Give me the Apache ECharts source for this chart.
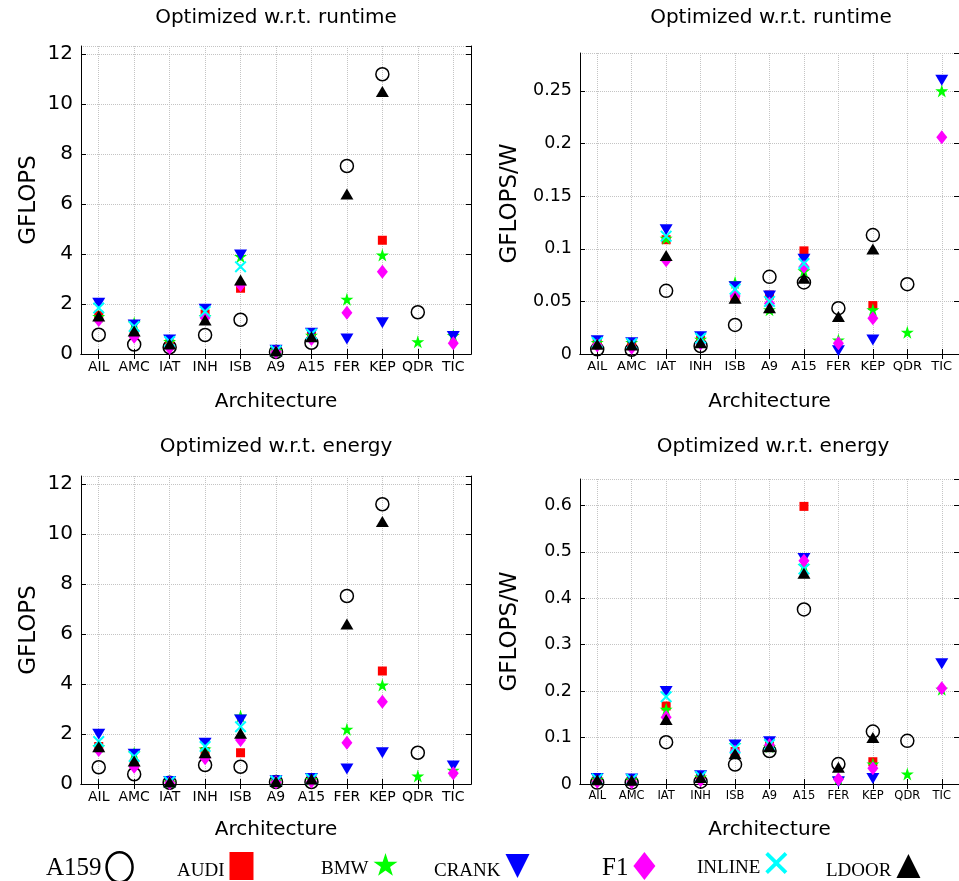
<!DOCTYPE html>
<html><head><meta charset="utf-8">
<script src="https://cdn.jsdelivr.net/npm/echarts@6/dist/echarts.min.js"></script>
<style>html,body{margin:0;padding:0;background:#fff}#c{width:959px;height:881px}</style>
</head><body><div id="c"></div>
<script>
const categories = ['AIL','AMC','IAT','INH','ISB','A9','A15','FER','KEP','QDR','TIC'];
const seriesNames = ['A159','AUDI','BMW','CRANK','F1','INLINE','LDOOR'];

// Panel 1: optimized w.r.t. runtime, GFLOPS
const rtGflopsA159   = [0.77, 0.38, 0.27, 0.76, 1.37, 0.08, 0.45, 7.52, 11.19, 1.67, null];
const rtGflopsAUDI   = [1.55, 0.80, 0.40, 1.60, 2.63, 0.12, 0.70, null, 4.55, null, null];
const rtGflopsBMW    = [1.50, 1.24, 0.50, 1.50, 3.90, 0.14, 0.75, 2.19, 3.96, 0.49, 0.74];
const rtGflopsCRANK  = [2.03, 1.16, 0.56, 1.79, 3.96, 0.15, 0.83, 0.60, 1.25, null, 0.70];
const rtGflopsF1     = [1.36, 0.69, 0.25, 1.45, 2.76, 0.08, 0.60, 1.65, 3.29, null, 0.43];
const rtGflopsINLINE = [1.84, 1.10, 0.50, 1.70, 3.49, 0.13, 0.80, null, null, null, null];
const rtGflopsLDOOR  = [1.52, 0.92, 0.40, 1.36, 2.96, 0.12, 0.69, 6.40, 10.50, null, null];

// Panel 2: optimized w.r.t. runtime, GFLOPS/W
const rtEffA159   = [0.0045, 0.0040, 0.0600, 0.0076, 0.0276, 0.0733, 0.0680, 0.0435, 0.1130, 0.0663, null];
const rtEffAUDI   = [0.0100, 0.0090, 0.1086, 0.0130, 0.0530, 0.0560, 0.0980, null, 0.0460, null, null];
const rtEffBMW    = [0.0110, 0.0110, 0.1100, 0.0140, 0.0680, 0.0420, 0.0790, 0.0133, 0.0420, 0.0206, 0.2500];
const rtEffCRANK  = [0.0125, 0.0108, 0.1180, 0.0165, 0.0640, 0.0552, 0.0900, 0.0030, 0.0133, null, 0.2600];
const rtEffF1     = [0.0080, 0.0060, 0.0890, 0.0100, 0.0550, 0.0480, 0.0830, 0.0102, 0.0340, null, 0.2060];
const rtEffINLINE = [0.0110, 0.0100, 0.1120, 0.0150, 0.0616, 0.0500, 0.0860, null, null, null, null];
const rtEffLDOOR  = [0.0092, 0.0086, 0.0937, 0.0108, 0.0530, 0.0440, 0.0720, 0.0356, 0.0997, null, null];

// Panel 3: optimized w.r.t. energy, GFLOPS
const enGflopsA159   = [0.67, 0.39, 0.05, 0.76, 0.69, 0.08, 0.08, 7.52, 11.19, 1.25, null];
const enGflopsAUDI   = [1.50, 0.80, 0.08, 1.30, 1.25, 0.10, 0.15, null, 4.52, null, null];
const enGflopsBMW    = [1.50, 1.24, 0.08, 1.40, 2.72, 0.12, 0.18, 2.19, 3.96, 0.32, 0.55];
const enGflopsCRANK  = [1.99, 1.19, 0.10, 1.63, 2.56, 0.13, 0.22, 0.60, 1.25, null, 0.72];
const enGflopsF1     = [1.36, 0.69, 0.04, 1.03, 1.76, 0.07, 0.10, 1.65, 3.29, null, 0.43];
const enGflopsINLINE = [1.70, 1.10, 0.09, 1.50, 2.29, 0.12, 0.20, null, null, null, null];
const enGflopsLDOOR  = [1.49, 0.92, 0.08, 1.25, 2.03, 0.10, 0.20, 6.40, 10.50, null, null];

// Panel 4: optimized w.r.t. energy, GFLOPS/W
const enEffA159   = [0.003, 0.003, 0.090, 0.005, 0.042, 0.071, 0.376, 0.043, 0.113, 0.093, null];
const enEffAUDI   = [0.008, 0.007, 0.168, 0.012, 0.070, 0.090, 0.598, null, 0.048, null, null];
const enEffBMW    = [0.010, 0.009, 0.161, 0.015, 0.085, 0.080, 0.470, 0.012, 0.043, 0.0215, 0.204];
const enEffCRANK  = [0.012, 0.011, 0.199, 0.018, 0.084, 0.091, 0.486, 0.005, 0.012, null, 0.259];
const enEffF1     = [0.005, 0.004, 0.144, 0.008, 0.070, 0.084, 0.481, 0.010, 0.034, null, 0.206];
const enEffINLINE = [0.011, 0.010, 0.188, 0.016, 0.077, 0.085, 0.463, null, null, null, null];
const enEffLDOOR  = [0.009, 0.008, 0.139, 0.014, 0.065, 0.080, 0.454, 0.036, 0.100, null, null];

// Tick labels
const yTicksGflops = [0, 2, 4, 6, 8, 10, 12];
const yTicksRtEff  = [0, 0.05, 0.1, 0.15, 0.2, 0.25];
const yTicksEnEff  = [0, 0.1, 0.2, 0.3, 0.4, 0.5, 0.6];

const STAR = 'path://M50,0L61.2,34.5L97.6,34.5L68.2,55.9L79.4,90.5L50,69.1L20.6,90.5L31.8,55.9L2.4,34.5L38.8,34.5Z';
const XMARK = 'path://M0,12L12,0L50,38L88,0L100,12L62,50L100,88L88,100L50,62L12,100L0,88L38,50Z';
const DOWNTRI = 'path://M0,0L100,0L50,100Z';
const ELLIPSE = 'path://M0,15A13,15,0,1,1,26,15A13,15,0,1,1,0,15Z';

const styles = {
  A159:   {symbol:'circle', symbolSize:13, itemStyle:{color:'rgba(0,0,0,0)', borderColor:'#000', borderWidth:1.5, opacity:1}},
  AUDI:   {symbol:'rect', symbolSize:9, itemStyle:{color:'#ff0000', opacity:1}},
  BMW:    {symbol:STAR, symbolSize:13, itemStyle:{color:'#00ff00', opacity:1}},
  CRANK:  {symbol:'triangle', symbolSize:[13,11], symbolRotate:180, itemStyle:{color:'#0000ff', opacity:1}},
  F1:     {symbol:'diamond', symbolSize:[11,14], itemStyle:{color:'#ff00ff', opacity:1}},
  INLINE: {symbol:XMARK, symbolSize:12, itemStyle:{color:'#00ffff', opacity:1}},
  LDOOR:  {symbol:'triangle', symbolSize:[13,11], itemStyle:{color:'#000000', opacity:1}}
};

const panels = [
  {title:'Optimized w.r.t. runtime', tx:276, ty:8, grid:{left:81, top:46, width:390, height:308},
   data:[rtGflopsA159, rtGflopsAUDI, rtGflopsBMW, rtGflopsCRANK, rtGflopsF1, rtGflopsINLINE, rtGflopsLDOOR],
   ticks:yTicksGflops, yMax:12.32, yName:'GFLOPS', yGap:40, xFont:14, yFont:20, xGap:38},
  {title:'Optimized w.r.t. runtime', tx:771, ty:8, grid:{left:580, top:53, width:382, height:301},
   data:[rtEffA159, rtEffAUDI, rtEffBMW, rtEffCRANK, rtEffF1, rtEffINLINE, rtEffLDOOR],
   ticks:yTicksRtEff, yMax:0.286, yName:'GFLOPS/W', yGap:58, xFont:13, yFont:17.5, xGap:38},
  {title:'Optimized w.r.t. energy', tx:276, ty:437, grid:{left:81, top:476, width:390, height:308},
   data:[enGflopsA159, enGflopsAUDI, enGflopsBMW, enGflopsCRANK, enGflopsF1, enGflopsINLINE, enGflopsLDOOR],
   ticks:yTicksGflops, yMax:12.32, yName:'GFLOPS', yGap:40, xFont:14, yFont:20, xGap:36},
  {title:'Optimized w.r.t. energy', tx:773, ty:437, grid:{left:580, top:479, width:387, height:305},
   data:[enEffA159, enEffAUDI, enEffBMW, enEffCRANK, enEffF1, enEffINLINE, enEffLDOOR],
   ticks:yTicksEnEff, yMax:0.657, yName:'GFLOPS/W', yGap:58, xFont:11.5, yFont:17.5, xGap:36}
];

const FONT = 'DejaVu Sans';
const gridLine = {show:true, lineStyle:{color:'#c4c4c4', type:'dotted', width:1}};
const blackLine = {show:true, lineStyle:{color:'#000', width:1}};
const tick = {show:true, inside:true, length:5, lineStyle:{color:'#000'}};

const option = {animation:false, backgroundColor:'#fff', title:[], grid:[], xAxis:[], yAxis:[], series:[], legend:[]};

panels.forEach((p, pi) => {
  option.title.push({text:p.title, left:p.tx, top:p.ty, textAlign:'center', padding:0,
    textStyle:{fontFamily:FONT, fontSize:20, fontWeight:'normal', color:'#000'}});
  option.grid.push(Object.assign({show:false, containLabel:false}, p.grid));
  const interval = p.ticks[1] - p.ticks[0];
  option.xAxis.push({gridIndex:pi, type:'category', data:categories, boundaryGap:true,
    axisLine:blackLine, axisTick:Object.assign({alignWithLabel:true, interval:0}, tick),
    axisLabel:{interval:0, margin:6, fontFamily:FONT, fontSize:p.xFont, color:'#000'},
    splitLine:Object.assign({alignWithLabel:true, interval:0}, gridLine),
    name:'Architecture', nameLocation:'middle', nameGap:p.xGap,
    nameTextStyle:{fontFamily:FONT, fontSize:20, color:'#000'}});
  option.xAxis.push({gridIndex:pi, type:'category', data:categories, boundaryGap:true, position:'top',
    axisLine:blackLine, axisTick:Object.assign({alignWithLabel:true, interval:0}, tick),
    axisLabel:{show:false}, splitLine:{show:false}});
  option.yAxis.push({gridIndex:pi, type:'value', min:p.ticks[0], max:p.yMax, interval:interval,
    axisLine:blackLine, axisTick:tick,
    axisLabel:{margin:8, fontFamily:FONT, fontSize:p.yFont, color:'#000', showMaxLabel:false},
    splitLine:gridLine,
    name:p.yName, nameLocation:'middle', nameGap:p.yGap, nameRotate:90,
    nameTextStyle:{fontFamily:FONT, fontSize:23, color:'#000'}});
  option.yAxis.push({gridIndex:pi, type:'value', position:'right', min:p.ticks[0], max:p.yMax, interval:interval,
    axisLine:blackLine, axisTick:tick, axisLabel:{show:false}, splitLine:{show:false}});
  seriesNames.forEach((n, si) => {
    const s = styles[n];
    option.series.push(Object.assign({type:'scatter', name:n, xAxisIndex:pi*2, yAxisIndex:pi*2,
      data:p.data[si], emphasis:{disabled:true}, silent:true}, s));
  });
});

const legendLeft = [46, 177, 321, 434, 602, 697, 826];
const legendFont = [25, 19, 19, 19, 25, 19, 19];
const legendPadTop = [2, 10, 10, 10, 4, 10, 10];
const legendIcon = [ELLIPSE, 'rect', STAR, DOWNTRI, 'diamond', XMARK, 'triangle'];
const legendSize = [[26,30],[24,28],[24,26],[24,24],[22,28],[22,28],[24,24]];
seriesNames.forEach((n, i) => {
  const st = styles[n].itemStyle;
  option.legend.push({left:legendLeft[i], top:866 - legendSize[i][1]/2, align:'right', padding:0,
    itemWidth:legendSize[i][0], itemHeight:legendSize[i][1], itemGap:0, selectedMode:false,
    formatter:name => '{t|' + name + '}',
    textStyle:{fontFamily:'Liberation Serif', color:'#000', fontSize:legendFont[i],
      rich:{t:{fontFamily:'Liberation Serif', color:'#000', fontSize:legendFont[i], padding:[legendPadTop[i],0,0,0]}}},
    data:[{name:n, icon:legendIcon[i],
      itemStyle: n === 'A159' ? {color:'rgba(0,0,0,0)', borderColor:'#000', borderWidth:2.5, opacity:1} : {color:st.color, borderWidth:0, opacity:1}}]});
});

const chart = echarts.init(document.getElementById('c'), null, {renderer:'canvas'});
chart.setOption(option);
</script></body></html>
